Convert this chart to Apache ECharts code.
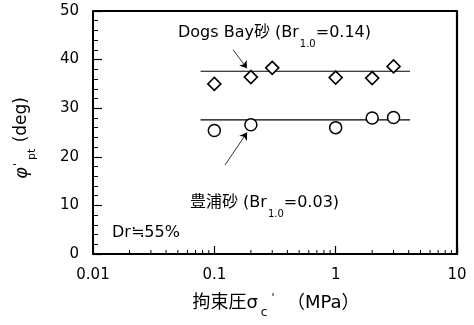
<!DOCTYPE html>
<html>
<head>
<meta charset="utf-8">
<script src="https://cdn.jsdelivr.net/npm/echarts@6/dist/echarts.min.js"></script>
<style>
html, body { margin: 0; padding: 0; background: #fff; }
#chart { width: 474px; height: 325px; }
</style>
</head>
<body>
<div id="chart"></div>
<script>
// Peak friction angle versus confining pressure (Dr ≒ 55 %)
const dogsBayPressure = [0.1, 0.2, 0.3, 1, 2, 3];
const dogsBayPhi = [35.0, 36.4, 38.3, 36.3, 36.2, 38.6];
const toyouraPressure = [0.1, 0.2, 1, 2, 3];
const toyouraPhi = [25.4, 26.6, 26.0, 28.0, 28.1];

// mean levels drawn across the tested pressure range
const trendPressure = [0.077, 4.1];
const dogsBayTrend = 37.6;
const toyouraTrend = 27.6;

// leader arrows from the labels to the points (data coordinates)
const dogsBayArrow = [[0.143, 42.0], [0.186, 38.2]];
const toyouraArrow = [[0.1225, 18.3], [0.186, 25.0]];

const xRange = [0.01, 10];
const yRange = [0, 50];
const xTickLabels = ['0.01', '0.1', '1', '10'];
const yTickLabels = ['0', '10', '20', '30', '40', '50'];

// log-decade minor ticks (2..9 in each decade)
const xMinorTicks = [];
[0.01, 0.1, 1].forEach(function (d) {
  for (let k = 2; k <= 9; k++) xMinorTicks.push(+(d * k).toPrecision(3));
});

const FONT = '"DejaVu Sans", "Noto Sans CJK JP", sans-serif';

const chart = echarts.init(document.getElementById('chart'), null, { renderer: 'canvas' });

function pairs(xs, ys) { return xs.map(function (x, i) { return [x, ys[i]]; }); }
function flat(xs, v) { return xs.map(function (x) { return [x, v]; }); }

chart.setOption({
  animation: false,
  backgroundColor: '#fff',
  grid: { left: 93, right: 17, top: 11, bottom: 71 },
  xAxis: {
    type: 'log', logBase: 10, min: xRange[0], max: xRange[1],
    axisLine: { onZero: false, lineStyle: { color: '#000', width: 2 } },
    axisTick: { inside: true, length: 8, lineStyle: { color: '#000', width: 1.2 } },
    axisLabel: {
      color: '#000', fontSize: 15, margin: 14, fontFamily: FONT,
      formatter: function (v) { return xTickLabels[Math.round(Math.log10(v)) + 2]; }
    },
    splitLine: { show: false }
  },
  yAxis: [
    {
      type: 'value', min: yRange[0], max: yRange[1], interval: 10,
      axisLine: { show: true, onZero: false, lineStyle: { color: '#000', width: 2 } },
      axisTick: { show: true, inside: true, length: 9, lineStyle: { color: '#000', width: 1.2 } },
      minorTick: { show: true, splitNumber: 5, length: 5, lineStyle: { color: '#000', width: 1 } },
      axisLabel: {
        color: '#000', fontSize: 15, margin: 14, fontFamily: FONT,
        formatter: function (v) { return yTickLabels[Math.round(v / 10)]; }
      },
      splitLine: { show: false }
    },
    {
      // right-hand frame edge
      type: 'value', min: yRange[0], max: yRange[1], interval: 10, position: 'right',
      axisLine: { show: true, onZero: false, lineStyle: { color: '#000', width: 2.2 } },
      axisTick: { show: false }, axisLabel: { show: false }, splitLine: { show: false }
    }
  ],
  series: [
    {
      type: 'line', data: flat(trendPressure, dogsBayTrend), symbol: 'none', z: 1,
      lineStyle: { color: '#000', width: 1.2 }
    },
    {
      type: 'line', data: flat(trendPressure, toyouraTrend), symbol: 'none', z: 1,
      lineStyle: { color: '#000', width: 1.2 }
    },
    {
      name: 'Dogs Bay砂', type: 'scatter', data: pairs(dogsBayPressure, dogsBayPhi),
      symbol: 'diamond', symbolSize: [13, 13], z: 3,
      itemStyle: { color: '#fff', borderColor: '#000', borderWidth: 1.6, opacity: 1 }
    },
    {
      name: '豊浦砂', type: 'scatter', data: pairs(toyouraPressure, toyouraPhi),
      symbol: 'circle', symbolSize: 12, z: 3,
      itemStyle: { color: '#fff', borderColor: '#000', borderWidth: 1.5, opacity: 1 }
    },
    {
      type: 'line', data: [], z: 4,
      markLine: {
        silent: true, symbol: ['none', 'arrow'], symbolSize: 7,
        label: { show: false },
        lineStyle: { color: '#000', width: 0.8, type: 'solid' },
        data: [
          [{ coord: dogsBayArrow[0] }, { coord: dogsBayArrow[1] }],
          [{ coord: toyouraArrow[0] }, { coord: toyouraArrow[1] }]
        ]
      }
    },
    {
      type: 'custom', data: xMinorTicks.map(function (v) { return [v, 0]; }), silent: true, z: 5,
      renderItem: function (params, api) {
        const p = api.coord([api.value(0), 0]);
        return {
          type: 'line',
          shape: { x1: p[0], y1: p[1], x2: p[0], y2: p[1] - 4 },
          style: { stroke: '#000', lineWidth: 1 }
        };
      }
    }
  ],
  graphic: [
    {
      type: 'text', x: 178, y: 33,
      style: {
        text: '{a|Dogs Bay砂 (Br}{s|1.0}{a|=0.14)}',
        verticalAlign: 'middle', align: 'left',
        rich: {
          a: { fontSize: 16, fontFamily: FONT, fill: '#000' },
          s: { fontSize: 10, fontFamily: FONT, fill: '#000', padding: [22, 0, 0, 1] }
        }
      }
    },
    {
      type: 'text', x: 190, y: 203,
      style: {
        text: '{a|豊浦砂 (Br}{s|1.0}{a|=0.03)}',
        verticalAlign: 'middle', align: 'left',
        rich: {
          a: { fontSize: 16, fontFamily: FONT, fill: '#000' },
          s: { fontSize: 10, fontFamily: FONT, fill: '#000', padding: [22, 0, 0, 1] }
        }
      }
    },
    {
      type: 'text', x: 112, y: 233,
      style: { text: 'Dr≒55%', fontSize: 16, fontFamily: FONT, fill: '#000', verticalAlign: 'middle', align: 'left' }
    },
    {
      type: 'text', x: 276, y: 303,
      style: {
        text: '{a|拘束圧σ}{s|c}{p|\'}{a|  （MPa）}',
        verticalAlign: 'middle', align: 'center',
        rich: {
          a: { fontSize: 18, fontFamily: FONT, fill: '#000' },
          s: { fontSize: 12, fontFamily: FONT, fill: '#000', padding: [20, 3, 0, 3] },
          p: { fontSize: 11, fontFamily: FONT, fill: '#000', padding: [0, 1, 10, 1] }
        }
      }
    },
    {
      type: 'text', x: 22, y: 138, rotation: Math.PI / 2,
      style: {
        text: '{f|φ}{p|\'}{s|pt}{a| (deg)}',
        verticalAlign: 'middle', align: 'center',
        rich: {
          f: { fontSize: 18, fontFamily: FONT, fontStyle: 'italic', fill: '#000' },
          a: { fontSize: 17, fontFamily: FONT, fill: '#000' },
          s: { fontSize: 11, fontFamily: FONT, fill: '#000', padding: [20, 1, 0, 2] },
          p: { fontSize: 11, fontFamily: FONT, fill: '#000', padding: [0, 1, 8, 1] }
        }
      }
    }
  ]
});

// top frame edge, placed from the axes' own scales
const topLeft = chart.convertToPixel({ xAxisIndex: 0, yAxisIndex: 0 }, [xRange[0], yRange[1]]);
const topRight = chart.convertToPixel({ xAxisIndex: 0, yAxisIndex: 0 }, [xRange[1], yRange[1]]);
chart.setOption({
  graphic: [{
    type: 'line', id: 'frameTop', z: 100,
    shape: { x1: topLeft[0], y1: topLeft[1], x2: topRight[0], y2: topRight[1] },
    style: { stroke: '#000', lineWidth: 2 }
  }]
});
</script>
</body>
</html>
